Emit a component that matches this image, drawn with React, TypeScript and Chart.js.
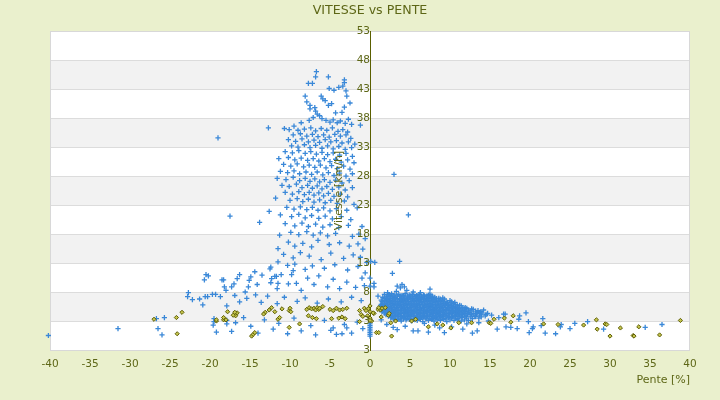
import React, { useEffect, useRef } from 'react';
import { Chart, registerables } from 'chart.js';

Chart.register(...registerables);

type Pt = [number, number];

const chartTitle = 'VITESSE vs PENTE';
const xAxisTitle = 'Pente [%]';
const yAxisTitle = 'Vitesse [km/h]';
const xRange: Pt = [-40, 40];
const yRange: Pt = [-2, 53];
// the source chart labels its lowest tick "3" as well
const yTickLabels = ['3', '3', '8', '13', '18', '23', '28', '33', '38', '43', '48', '53'];
const shadedBands: Pt[] = [[3, 8], [13, 18], [23, 28], [33, 38], [43, 48]];

// blue series: the tall group at negative slope
const blueTower: Pt[] = [
  [-6.7, 46.0], [-6.8, 45.1], [-7.7, 44.0], [-7.2, 44.0], [-5.2, 45.1], [-3.2, 44.6], [-3.2, 44.1],
  [-5.1, 43.1], [-4.5, 42.8], [-3.9, 43.3], [-3.4, 43.5], [-3.0, 42.7], [-2.9, 41.8], [-8.1, 41.8], [-6.1, 41.8],
  [-5.9, 41.3], [-5.6, 41.0], [-7.9, 40.8], [-7.5, 40.2], [-5.2, 40.2], [-4.8, 40.5], [-6.9, 39.8],
  [-7.5, 39.6], [-6.8, 39.2], [-6.6, 38.7], [-6.3, 38.4], [-4.3, 38.9], [-3.5, 39.0], [-3.2, 39.9], [-2.5, 40.6],
  [-7.1, 38.1], [-7.6, 37.6], [-6.0, 37.9], [-5.5, 37.6], [-5.0, 37.3], [-4.6, 37.7], [-4.1, 37.2], [-3.7, 37.5],
  [-3.1, 37.1], [-2.7, 37.8], [-2.3, 36.9], [-1.2, 36.8], [-8.6, 37.2], [-9.5, 36.6], [-12.7, 36.3], [-10.7, 36.2],
  [-10.1, 36.0], [-19.0, 34.6],
  [-9.0, 35.9], [-8.2, 36.1], [-7.4, 36.3], [-6.8, 35.8], [-6.1, 36.2], [-5.4, 35.9], [-4.7, 36.3], [-4.0, 35.7], [-3.4, 36.0], [-2.8, 35.6],
  [-9.6, 35.1], [-8.7, 35.3], [-7.9, 34.9], [-7.2, 35.2], [-6.5, 34.8], [-5.8, 35.1], [-5.1, 34.7], [-4.4, 35.2], [-3.7, 34.9], [-3.0, 35.1], [-2.4, 34.5],
  [-10.2, 34.3], [-9.3, 34.0], [-8.5, 34.4], [-7.7, 33.9], [-7.0, 34.2], [-6.3, 33.8], [-5.6, 34.3], [-4.9, 33.9], [-4.2, 34.1], [-3.5, 33.7], [-2.7, 33.9], [-1.9, 33.5],
  [-9.8, 33.2], [-9.0, 33.0], [-8.2, 33.4], [-7.5, 32.9], [-6.8, 33.3], [-6.0, 32.8], [-5.3, 33.2], [-4.6, 32.7], [-3.9, 33.1], [-3.1, 32.6], [-2.3, 32.9],
  [-10.6, 32.2], [-9.7, 32.0], [-8.9, 32.4], [-8.1, 31.9], [-7.4, 32.2], [-6.7, 31.8], [-6.0, 32.1], [-5.3, 31.7], [-4.6, 32.0], [-3.8, 31.6], [-3.0, 31.9], [-2.2, 31.4],
  [-11.4, 31.0], [-10.2, 31.2], [-9.4, 30.8], [-8.6, 31.1], [-7.8, 30.7], [-7.1, 31.0], [-6.4, 30.6], [-5.7, 31.0], [-5.0, 30.5], [-4.3, 30.9], [-3.6, 30.4], [-2.8, 30.8], [-2.0, 30.3],
  [-10.8, 30.0], [-9.9, 29.7], [-9.1, 30.1], [-8.3, 29.6], [-7.6, 29.9], [-6.9, 29.5], [-6.2, 29.9], [-5.5, 29.4], [-4.8, 29.8], [-4.1, 29.3], [-3.3, 29.7], [-2.5, 29.2],
  [-11.2, 28.8], [-10.3, 28.6], [-9.5, 28.9], [-8.8, 28.4], [-8.0, 28.7], [-7.3, 28.3], [-6.6, 28.7], [-5.9, 28.2], [-5.2, 28.6], [-4.5, 28.1], [-3.8, 28.5], [-3.0, 28.0], [-2.2, 28.4],
  [-11.6, 27.6], [-10.5, 27.4], [-9.6, 27.8], [-8.8, 27.2], [-8.1, 27.6], [-7.5, 27.1], [-6.9, 27.5], [-6.3, 27.0], [-5.7, 27.4], [-5.0, 26.9], [-4.3, 27.3], [-3.5, 26.8], [-2.6, 27.2],
  [-11.0, 26.4], [-10.1, 26.2], [-9.2, 26.6], [-8.5, 26.0], [-7.8, 26.4], [-7.2, 25.9], [-6.6, 26.3], [-6.0, 25.8], [-5.4, 26.2], [-4.7, 25.7], [-3.9, 26.1], [-3.1, 25.6], [-2.2, 26.0],
  [-10.6, 25.2], [-9.7, 24.9], [-8.9, 25.3], [-8.2, 24.8], [-7.6, 25.2], [-7.0, 24.7], [-6.4, 25.1], [-5.8, 24.6], [-5.2, 25.0], [-4.5, 24.5], [-3.7, 24.9], [-2.8, 24.4],
  [-11.8, 24.2], [-10.0, 23.8], [-9.1, 24.1], [-8.4, 23.6], [-7.7, 24.0], [-7.0, 23.5], [-6.3, 23.9], [-5.6, 23.4], [-4.9, 23.8], [-4.1, 23.3], [-3.2, 23.7], [-2.0, 23.1],
  [-12.6, 21.9], [-13.8, 20.0], [-17.5, 21.1], [-10.4, 22.6], [-9.5, 22.3], [-8.7, 22.7], [-7.9, 22.2], [-7.2, 22.6], [-6.5, 22.1], [-5.8, 22.5], [-5.0, 22.0], [-4.2, 22.4], [-2.9, 22.1], [-1.6, 22.5],
  [-11.2, 21.3], [-9.8, 21.0], [-8.9, 21.4], [-8.1, 20.8], [-7.3, 21.2], [-6.4, 20.7], [-5.6, 21.1], [-4.7, 20.6], [-3.6, 21.0], [-2.4, 20.5],
  [-10.6, 19.8], [-9.4, 19.4], [-8.5, 19.9], [-7.7, 19.3], [-6.8, 19.7], [-5.9, 19.2], [-5.0, 19.6], [-3.9, 19.1], [-2.7, 19.5], [-1.0, 19.3],
  [-11.3, 17.8], [-9.9, 18.3], [-8.9, 17.9], [-7.9, 18.4], [-7.1, 17.8], [-6.2, 18.2], [-5.3, 17.7], [-4.3, 18.1], [-2.2, 17.6], [-1.4, 18.0], [-0.6, 17.2],
];

// blue series: the spread below the tower and the arm towards -20 %
const blueArm: Pt[] = [
  [-11.5, 15.5], [-10.2, 16.6], [-9.4, 15.9], [-8.4, 16.4], [-7.3, 15.8], [-6.5, 16.9], [-5.1, 16.2], [-3.8, 16.5], [-2.6, 15.9], [-1.5, 16.3], [-0.9, 15.4],
  [-10.8, 14.5], [-9.6, 13.9], [-8.7, 14.8], [-7.6, 14.2], [-6.1, 13.6], [-4.9, 14.7], [-3.3, 13.8], [-2.1, 14.4], [-1.2, 14.0], [-0.4, 13.1], [0.1, 13.3],
  [-12.4, 12.3], [-11.5, 13.2], [-10.3, 12.6], [-9.4, 12.8], [-8.1, 11.9], [-7.2, 12.5], [-5.7, 12.1], [-4.4, 12.7], [-2.8, 11.8], [-1.5, 12.4], [-0.6, 11.3],
  [-20.7, 10.1], [-20.5, 11.0], [-20.2, 10.8], [-18.5, 10.1], [-18.3, 10.1], [-18.2, 8.9], [-18.0, 8.3], [-17.3, 8.9], [-17.0, 9.4], [-16.6, 10.3],
  [-16.3, 11.0], [-15.6, 8.0], [-15.2, 8.9], [-15.1, 10.0], [-14.9, 10.6], [-14.4, 11.5], [-14.1, 9.3], [-13.5, 10.9], [-12.5, 12.0], [-12.4, 9.6],
  [-12.3, 10.3], [-11.9, 10.7], [-11.7, 10.7], [-11.6, 8.6], [-11.5, 9.5], [-11.1, 11.0], [-10.2, 9.4], [-9.8, 11.0], [-9.6, 11.7], [-9.2, 9.5],
  [-8.6, 8.3], [-7.8, 10.4], [-7.0, 9.3], [-6.4, 10.8], [-5.3, 8.9], [-4.6, 10.2], [-3.8, 8.6], [-2.9, 9.7], [-1.8, 8.8], [-1.0, 10.4], [-0.7, 9.1],
  [-22.7, 7.9], [-22.8, 7.2], [-22.2, 6.7], [-21.3, 6.8], [-20.9, 5.8], [-20.6, 7.2], [-20.3, 7.2], [-19.7, 7.6], [-19.3, 7.6], [-18.7, 7.2],
  [-17.9, 5.6], [-16.9, 7.4], [-16.3, 6.3], [-15.4, 6.9], [-14.3, 7.5], [-13.6, 6.2], [-12.8, 7.3], [-11.6, 6.0], [-10.7, 7.1], [-9.1, 6.4],
  [-8.1, 7.0], [-6.6, 6.1], [-5.2, 6.8], [-3.6, 6.3], [-2.3, 7.1], [-1.1, 6.5],
  [-40.2, 0.5], [-31.5, 1.7], [-26.7, 3.4], [-25.7, 3.6], [-26.5, 1.7], [-26.0, 0.6], [-19.5, 3.4], [-19.5, 2.9], [-19.6, 2.3], [-19.2, 1.1],
  [-17.9, 2.5], [-17.9, 3.1], [-17.3, 1.2], [-16.8, 2.7], [-15.8, 3.6], [-14.9, 2.1], [-14.0, 0.9], [-13.2, 3.2], [-12.1, 1.6], [-11.4, 2.6],
  [-10.3, 0.8], [-9.5, 3.5], [-8.6, 1.3], [-7.4, 2.2], [-6.8, 0.6], [-5.7, 3.1], [-4.9, 1.4], [-4.6, 1.8], [-4.2, 0.7], [-3.5, 0.8], [-3.2, 2.4],
  [-2.9, 1.8], [-2.3, 0.9], [-1.6, 2.8], [-0.9, 1.7],
  [0, 0.4], [0, 0.7], [0, 1.0], [0, 1.3], [0, 1.6], [0, 1.9], [0, 2.2], [0, 2.5], [0, 9.0], [0, 10.4],
];

// blue series: the dense group at positive slope
const blueCluster: Pt[] = [
  [3.3, 8.1], [4.6, 8.3], [5.4, 8.0], [2.2, 7.9], [6.3, 7.9],
  [1.8, 7.6], [2.3, 7.5], [2.7, 7.7], [3.1, 7.5], [3.6, 7.6], [4.0, 7.4], [4.4, 7.7], [4.9, 7.5], [5.3, 7.6], [5.8, 7.4], [6.2, 7.6], [6.7, 7.5], [7.1, 7.3], [7.6, 7.5],
  [2.1, 7.3], [2.5, 7.4], [2.9, 7.3], [3.4, 7.35], [3.8, 7.3], [4.2, 7.4], [4.7, 7.3], [5.1, 7.35], [5.5, 7.3], [6.0, 7.4], [6.4, 7.3], [6.8, 7.35], [7.3, 7.4], [7.8, 7.3],
  [1.6, 7.1], [2.0, 7.0], [2.4, 7.2], [2.8, 7.0], [3.2, 7.1], [3.7, 6.9], [4.1, 7.2], [4.5, 7.0], [4.9, 7.1], [5.3, 6.9], [5.7, 7.2], [6.1, 7.0], [6.5, 7.1], [6.9, 6.9], [7.3, 7.1], [7.7, 6.9], [8.1, 7.1], [8.6, 6.9], [9.1, 7.0],
  [1.8, 6.85], [2.2, 6.8], [2.6, 6.9], [3.0, 6.8], [3.4, 6.85], [3.9, 6.8], [4.3, 6.9], [4.7, 6.8], [5.1, 6.85], [5.5, 6.8], [5.9, 6.9], [6.3, 6.8], [6.7, 6.85], [7.1, 6.8], [7.5, 6.9], [7.9, 6.8], [8.3, 6.85], [8.8, 6.8], [9.3, 6.8],
  [1.4, 6.6], [1.8, 6.5], [2.2, 6.7], [2.6, 6.5], [3.0, 6.6], [3.4, 6.4], [3.8, 6.7], [4.2, 6.5], [4.6, 6.6], [5.0, 6.4], [5.4, 6.6], [5.8, 6.5], [6.2, 6.7], [6.6, 6.4], [7.0, 6.6], [7.4, 6.5], [7.8, 6.6], [8.2, 6.4], [8.6, 6.6], [9.0, 6.5], [9.5, 6.3], [10.0, 6.5],
  [1.5, 6.35], [2.0, 6.3], [2.4, 6.4], [2.8, 6.3], [3.2, 6.35], [3.6, 6.3], [4.0, 6.4], [4.4, 6.3], [4.8, 6.35], [5.2, 6.3], [5.6, 6.4], [6.0, 6.3], [6.4, 6.35], [6.8, 6.3], [7.2, 6.4], [7.6, 6.3], [8.0, 6.35], [8.4, 6.3], [8.8, 6.4], [9.2, 6.3], [9.7, 6.2], [10.2, 6.3], [10.6, 6.2],
  [1.6, 6.1], [2.0, 6.0], [2.4, 6.2], [2.8, 6.0], [3.2, 6.1], [3.6, 5.9], [4.0, 6.2], [4.4, 6.0], [4.8, 6.1], [5.2, 5.9], [5.6, 6.1], [6.0, 6.0], [6.4, 6.2], [6.8, 5.9], [7.2, 6.1], [7.6, 6.0], [8.0, 6.2], [8.4, 5.9], [8.8, 6.1], [9.2, 6.0], [9.6, 6.1], [10.0, 5.9], [10.4, 6.0], [10.9, 5.8],
  [1.4, 5.85], [1.8, 5.8], [2.2, 5.9], [2.6, 5.8], [3.0, 5.85], [3.4, 5.8], [3.8, 5.9], [4.2, 5.8], [4.6, 5.85], [5.0, 5.8], [5.4, 5.9], [5.8, 5.8], [6.2, 5.85], [6.6, 5.8], [7.0, 5.9], [7.4, 5.8], [7.8, 5.85], [8.2, 5.8],
  [8.6, 5.9], [9.0, 5.8], [9.4, 5.85], [9.8, 5.8], [10.2, 5.75], [10.7, 5.8], [11.2, 5.7],
  [1.3, 5.6], [1.7, 5.5], [2.1, 5.7], [2.5, 5.5], [2.9, 5.6], [3.3, 5.4], [3.7, 5.7], [4.1, 5.5], [4.5, 5.6], [4.9, 5.4], [5.3, 5.6], [5.7, 5.5], [6.1, 5.7], [6.5, 5.4], [6.9, 5.6], [7.3, 5.5], [7.7, 5.6], [8.1, 5.4],
  [8.5, 5.6], [8.9, 5.5], [9.3, 5.7], [9.7, 5.4], [10.1, 5.6], [10.5, 5.5], [10.9, 5.4], [11.4, 5.6], [11.9, 5.3],
  [1.5, 5.35], [1.9, 5.3], [2.3, 5.4], [2.7, 5.3], [3.1, 5.35], [3.5, 5.3], [3.9, 5.4], [4.3, 5.3], [4.7, 5.35], [5.1, 5.3], [5.5, 5.4], [5.9, 5.3], [6.3, 5.35], [6.7, 5.3], [7.1, 5.4], [7.5, 5.3],
  [7.9, 5.35], [8.3, 5.3], [8.7, 5.4], [9.1, 5.3], [9.5, 5.35], [9.9, 5.3], [10.3, 5.25], [10.7, 5.3], [11.1, 5.2], [11.6, 5.3], [12.1, 5.2], [12.7, 5.1],
  [1.8, 5.1], [2.2, 5.0], [2.6, 5.2], [3.0, 5.0], [3.4, 5.1], [3.8, 4.9], [4.2, 5.2], [4.6, 5.0], [5.0, 5.1], [5.4, 4.9], [5.8, 5.1], [6.2, 5.0], [6.6, 5.2], [7.0, 4.9], [7.4, 5.1], [7.8, 5.0],
  [8.2, 5.2], [8.6, 4.9], [9.0, 5.1], [9.4, 5.0], [9.8, 5.1], [10.2, 4.9], [10.6, 5.1], [11.0, 5.0], [11.4, 4.9], [11.8, 5.1], [12.3, 4.9], [12.9, 5.0], [13.5, 4.8], [14.2, 4.9],
  [1.6, 4.85], [2.0, 4.8], [2.4, 4.9], [2.8, 4.8], [3.2, 4.85], [3.6, 4.8], [4.0, 4.9], [4.4, 4.8], [4.8, 4.85], [5.2, 4.8], [5.6, 4.9], [6.0, 4.8], [6.4, 4.85], [6.8, 4.8], [7.2, 4.9], [7.6, 4.8],
  [8.0, 4.85], [8.4, 4.8], [8.8, 4.9], [9.2, 4.8], [9.6, 4.85], [10.0, 4.8], [10.4, 4.75], [10.8, 4.8], [11.2, 4.7], [11.6, 4.8], [12.0, 4.7], [12.6, 4.75], [13.2, 4.7], [13.8, 4.6],
  [1.5, 4.6], [1.9, 4.5], [2.3, 4.7], [2.7, 4.5], [3.1, 4.6], [3.5, 4.4], [3.9, 4.7], [4.3, 4.5], [4.7, 4.6], [5.1, 4.4], [5.5, 4.6], [5.9, 4.5], [6.3, 4.7], [6.7, 4.4], [7.1, 4.6], [7.5, 4.5],
  [7.9, 4.6], [8.3, 4.4], [8.7, 4.6], [9.1, 4.5], [9.5, 4.7], [9.9, 4.4], [10.3, 4.6], [10.7, 4.5], [11.1, 4.6], [11.5, 4.4], [11.9, 4.6], [12.4, 4.5], [12.9, 4.3], [13.4, 4.5], [14.0, 4.4], [14.7, 4.3],
  [1.8, 4.35], [2.2, 4.3], [2.6, 4.4], [3.0, 4.3], [3.4, 4.35], [3.8, 4.3], [4.2, 4.4], [4.6, 4.3], [5.0, 4.35], [5.4, 4.3], [5.8, 4.4], [6.2, 4.3], [6.6, 4.35], [7.0, 4.3], [7.4, 4.4], [7.8, 4.3],
  [8.2, 4.35], [8.6, 4.3], [9.0, 4.4], [9.4, 4.3], [9.8, 4.25], [10.2, 4.3], [10.6, 4.35], [11.0, 4.3], [11.4, 4.2], [11.8, 4.3], [12.2, 4.25], [12.7, 4.2], [13.3, 4.3], [13.9, 4.2], [14.5, 4.15],
  [2.0, 4.1], [2.4, 4.0], [2.8, 4.2], [3.2, 4.0], [3.6, 4.1], [4.0, 3.9], [4.4, 4.2], [4.8, 4.0], [5.2, 4.1], [5.6, 3.9], [6.0, 4.1], [6.4, 4.0], [6.8, 4.2], [7.2, 3.9], [7.6, 4.1], [8.0, 4.0],
  [8.4, 4.1], [8.8, 3.9], [9.2, 4.1], [9.6, 4.0], [10.0, 4.2], [10.4, 3.9], [10.8, 4.1], [11.2, 4.0], [11.6, 4.1], [12.0, 3.9], [12.5, 4.1], [13.1, 3.9], [13.7, 4.0], [14.4, 3.9], [15.2, 4.0],
  [2.3, 3.85], [2.7, 3.8], [3.1, 3.9], [3.5, 3.8], [3.9, 3.85], [4.3, 3.8], [4.7, 3.9], [5.1, 3.8], [5.5, 3.85], [5.9, 3.8], [6.3, 3.9], [6.7, 3.8], [7.1, 3.85], [7.5, 3.8], [7.9, 3.9], [8.3, 3.8],
  [8.7, 3.85], [9.1, 3.8], [9.5, 3.9], [9.9, 3.8], [10.3, 3.75], [10.7, 3.8], [11.1, 3.85], [11.5, 3.7], [12.0, 3.8], [12.6, 3.7], [13.2, 3.75], [13.9, 3.7],
  [2.6, 3.6], [3.0, 3.5], [3.4, 3.7], [3.8, 3.5], [4.2, 3.6], [4.6, 3.4], [5.0, 3.7], [5.4, 3.5], [5.8, 3.6], [6.2, 3.4], [6.6, 3.6], [7.0, 3.5], [7.4, 3.7], [7.8, 3.4], [8.2, 3.6], [8.6, 3.5],
  [9.0, 3.6], [9.4, 3.4], [9.8, 3.6], [10.2, 3.5], [10.6, 3.7], [11.0, 3.4], [11.5, 3.6], [12.1, 3.5], [12.8, 3.4], [13.6, 3.5],
  [2.9, 3.35], [3.6, 3.3], [4.2, 3.35], [4.9, 3.3], [5.6, 3.25], [6.3, 3.3], [7.0, 3.35], [7.7, 3.3], [8.4, 3.25], [9.2, 3.3], [10.0, 3.2], [10.9, 3.3], [11.8, 3.2],
  [3.2, 3.1], [3.9, 3.0], [4.5, 3.2], [5.2, 3.0], [5.9, 3.1], [6.6, 2.9], [7.3, 3.1], [8.0, 3.0], [8.8, 3.1], [9.6, 2.9], [10.5, 3.1], [11.4, 3.0], [12.3, 3.1],
];

// blue series: scattered points at positive slope
const blueSpread: Pt[] = [
  [0.6, 13.1], [3.7, 13.3], [2.8, 11.2], [0.5, 9.5], [0.5, 8.9], [4.0, 9.3], [3.4, 9.0], [4.3, 8.9], [3.8, 8.7], [7.5, 8.5], [7.4, 7.6], [1.0, 7.3],
  [3.0, 28.3], [4.8, 21.3],
  [3.4, 1.5], [5.4, 1.3], [6.0, 1.3], [7.3, 1.1], [9.3, 1.0], [8.7, 1.8], [12.8, 0.9], [13.4, 1.3], [11.6, 1.6], [15.9, 1.6], [17.0, 2.0],
  [19.9, 1.0], [18.4, 1.7], [20.4, 2.0], [21.9, 0.9], [23.2, 0.8], [23.8, 2.0], [25.0, 1.7], [25.6, 2.6], [27.2, 2.9], [29.2, 1.6], [34.4, 1.9],
  [36.5, 2.4], [43.2, 0.5],
  [19.5, 4.4], [18.7, 3.9], [21.6, 3.4], [16.7, 4.2], [16.9, 4.2], [18.6, 3.3], [19.8, 2.9], [21.4, 2.2], [23.9, 2.4], [17.6, 1.9], [20.3, 1.7],
  [16.1, 3.6], [14.8, 3.0], [13.6, 2.7], [2.1, 2.4], [4.4, 2.1], [6.8, 2.6], [8.1, 2.3], [10.2, 2.0], [12.1, 2.5], [1.4, 3.2], [2.9, 1.9],
];

// olive series
const oliveLow: Pt[] = [
  [-41.1, 0.4], [-27.0, 3.3], [-24.2, 3.6], [-24.1, 0.8], [-23.5, 4.5], [-19.2, 3.0], [-18.3, 3.2], [-17.8, 4.6], [-16.8, 3.9], [-16.6, 4.4],
  [-19.2, 3.2], [-18.3, 3.6], [-18.0, 3.2], [-17.1, 4.0], [-16.9, 4.5], [-14.8, 0.4], [-14.6, 0.7], [-14.4, 1.0], [-13.1, 4.5], [-13.3, 4.2],
  [-12.3, 5.3], [-12.6, 4.9], [-11.9, 4.6], [-11.5, 3.3], [-11.3, 3.6], [-11.0, 5.1], [-10.1, 4.8], [-10.0, 5.2], [-9.9, 4.6], [-10.1, 1.9], [-8.8, 2.5],
  [-7.9, 5.0], [-7.6, 5.3], [-7.3, 5.1], [-7.0, 5.2], [-6.8, 4.9], [-6.6, 5.3], [-6.4, 5.0], [-6.3, 5.2], [-5.9, 5.5], [-7.7, 3.9], [-7.2, 3.6], [-6.7, 3.4],
  [-5.0, 5.0], [-4.6, 4.8], [-4.2, 5.2], [-3.8, 4.9], [-3.4, 5.0], [-2.9, 5.2], [-4.8, 3.4], [-3.9, 3.5], [-3.5, 3.7], [-3.1, 3.4],
  [-1.3, 4.8], [-1.1, 4.1], [-0.9, 3.8], [-0.2, 5.1], [0.0, 4.6], [0.5, 4.3], [0.8, 1.0], [1.3, 4.9], [1.5, 5.2], [2.7, 0.4], [-1.3, 2.9],
  [-0.7, 5.2], [-0.5, 4.8], [-0.3, 3.9], [0.0, 3.5], [0.2, 3.0], [0.0, 5.6], [1.0, 5.0], [1.1, 5.3], [2.3, 4.0], [2.4, 4.3],
  [1.9, 5.3], [0.4, 4.4], [0.0, 3.1], [1.4, 3.7], [1.1, 1.0], [2.6, 2.7], [3.2, 3.0], [5.2, 3.0], [5.7, 3.3], [7.3, 2.0], [8.4, 2.5],
  [9.1, 2.3], [10.1, 1.8], [11.1, 2.7], [12.7, 2.7], [14.9, 2.7], [15.1, 2.6], [15.5, 3.3], [16.8, 3.5], [17.6, 2.8], [17.9, 3.9],
  [21.7, 2.5], [23.5, 2.4], [26.7, 2.3], [28.3, 3.2], [28.4, 1.6], [29.4, 2.5], [29.6, 2.4], [30.0, 0.4], [31.3, 1.8], [32.9, 0.5],
  [33.0, 0.4], [33.6, 2.0], [36.2, 0.6], [38.8, 3.1], [41.6, 2.3],
];

const FONT = 'DejaVu Sans';
const OLIVE = '#5d6616';

const toXY = (pts: Pt[]) => pts.map(([x, y]) => ({ x, y }));

const plotFrame = {
  id: 'plotFrame',
  beforeDraw(chart: Chart) {
    const { ctx, chartArea: a } = chart;
    const yScale = chart.scales.y;
    ctx.save();
    ctx.fillStyle = '#ffffff';
    ctx.fillRect(a.left, a.top, a.width, a.height);
    ctx.fillStyle = '#f2f2f2';
    shadedBands.forEach(([lo, hi]) => {
      const top = yScale.getPixelForValue(hi);
      const bottom = yScale.getPixelForValue(lo);
      ctx.fillRect(a.left, top, a.width, bottom - top);
    });
    // horizontal grid lines under the points
    ctx.strokeStyle = '#dcdcdc';
    ctx.lineWidth = 1;
    yScale.ticks.forEach((t) => {
      const py = Math.round(yScale.getPixelForValue(t.value)) + 0.5;
      ctx.beginPath();
      ctx.moveTo(a.left, py);
      ctx.lineTo(a.right, py);
      ctx.stroke();
    });
    ctx.strokeStyle = '#d8d8d8';
    ctx.strokeRect(Math.round(a.left) + 0.5, Math.round(a.top) + 0.5, Math.round(a.width) - 1, Math.round(a.height));
    ctx.restore();
  },
  afterDatasetsDraw(chart: Chart) {
    // y title sits just left of the axis that crosses at 0 %
    const { ctx, chartArea: a } = chart;
    const x = chart.scales.x.getPixelForValue(0) - 31;
    ctx.save();
    ctx.translate(x, (a.top + a.bottom) / 2);
    ctx.rotate(-Math.PI / 2);
    ctx.textAlign = 'center';
    ctx.textBaseline = 'middle';
    ctx.font = `11px "${FONT}"`;
    ctx.fillStyle = OLIVE;
    ctx.fillText(yAxisTitle, 0, 0);
    ctx.restore();
  },
};

const ScatterChart: React.FC = () => {
  const chartRef = useRef<HTMLCanvasElement>(null);
  const chartInstanceRef = useRef<Chart | null>(null);

  useEffect(() => {
    if (!chartRef.current) return;
    if (chartInstanceRef.current) chartInstanceRef.current.destroy();

    chartInstanceRef.current = new Chart(chartRef.current, {
      type: 'scatter',
      data: {
        datasets: [
          {
            label: 'olive',
            data: toXY(oliveLow),
            pointStyle: 'rectRot',
            pointRadius: 2.1,
            borderWidth: 1,
            borderColor: '#5f5f05',
            backgroundColor: '#c4c44c',
            clip: false,
            order: 0,
          },
          {
            label: 'blue',
            data: toXY([...blueTower, ...blueArm, ...blueCluster, ...blueSpread]),
            pointStyle: 'cross',
            pointRadius: 2.6,
            borderWidth: 1.3,
            borderColor: '#3a88d8',
            backgroundColor: '#3a88d8',
            clip: false,
            order: 1,
          },
        ],
      },
      options: {
        animation: false,
        responsive: false,
        layout: { padding: { left: 50, right: 30, top: 0, bottom: 0 } },
        plugins: {
          legend: { display: false },
          tooltip: { enabled: false },
          title: {
            display: true,
            text: chartTitle,
            color: OLIVE,
            font: { family: FONT, size: 12.6, weight: 'normal' },
            padding: { top: 3, bottom: 13 },
          },
        },
        scales: {
          x: {
            type: 'linear',
            position: 'bottom',
            min: xRange[0],
            max: xRange[1],
            grid: { display: false, drawTicks: false },
            border: { display: false },
            ticks: { stepSize: 5, color: OLIVE, font: { family: FONT, size: 10.5 }, padding: 8, maxRotation: 0 },
            title: {
              display: true,
              text: xAxisTitle,
              align: 'end',
              color: OLIVE,
              font: { family: FONT, size: 11 },
              padding: { top: 0, bottom: 13 },
            },
            afterFit: (scale: any) => {
              scale.height = 50;
            },
          },
          y: {
            type: 'linear',
            position: { x: 0 },
            min: yRange[0],
            max: yRange[1],
            grid: { display: false, drawTicks: false },
            border: { display: true, color: '#5a5f00', width: 1 },
            ticks: {
              z: 1, // labels over the points, as in the source
              stepSize: 5,
              color: OLIVE,
              font: { family: FONT, size: 10.5 },
              padding: 7,
              callback: (_v: any, i: number) => yTickLabels[i],
            },
          },
        },
      },
      plugins: [plotFrame],
    } as any);

    return () => {
      if (chartInstanceRef.current) {
        chartInstanceRef.current.destroy();
        chartInstanceRef.current = null;
      }
    };
  }, []);

  return <canvas ref={chartRef} width={720} height={400} />;
};

export default function App() {
  return (
    <div style={{ position: 'absolute', left: 0, top: 0, width: 720, height: 400, background: '#eaf0cd' }}>
      <ScatterChart />
    </div>
  );
}
